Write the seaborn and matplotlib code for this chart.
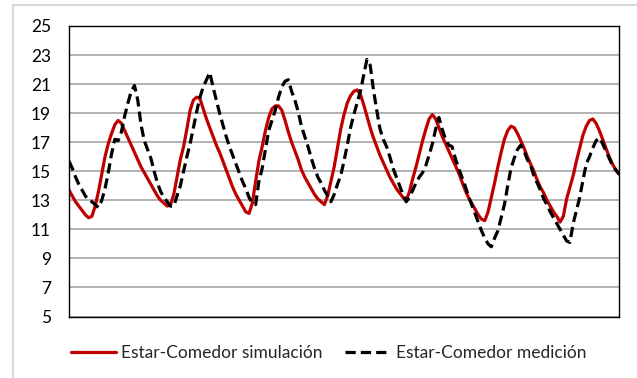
import numpy as np
import pandas as pd
import matplotlib
matplotlib.use("Agg")
import matplotlib.pyplot as plt
from matplotlib.patches import Rectangle
from matplotlib.lines import Line2D
import seaborn as sns

# Hourly living/dining room temperature over one week (°C)
simulacion = [
    13.7, 13.3, 12.9, 12.6, 12.3, 12.0, 11.8, 11.9, 12.6, 13.6, 14.8, 16.0, 16.9, 17.6, 18.2, 18.5,
    18.3, 17.8, 17.3, 16.8, 16.3, 15.8, 15.3, 14.9, 14.5, 14.1, 13.7, 13.3, 13.0, 12.8, 12.6,
    12.7, 13.4, 14.6, 15.8, 16.7, 17.9, 19.2, 19.9, 20.1, 20.0, 19.3, 18.6, 18.0, 17.4, 16.8,
    16.3, 15.7, 15.1, 14.5, 13.9, 13.4, 13.0, 12.6, 12.2, 12.1,
    12.8, 14.3, 15.7, 16.7, 17.8, 18.7, 19.3, 19.5, 19.5, 19.2, 18.5, 17.7, 17.0, 16.4, 15.8,
    15.1, 14.6, 14.2, 13.8, 13.4, 13.1, 12.9, 12.7,
    13.3, 14.3, 15.3, 16.6, 17.9, 18.9, 19.7, 20.2, 20.5, 20.6, 20.3, 19.6, 18.8, 18.0, 17.3,
    16.7, 16.1, 15.6, 15.1, 14.6, 14.2, 13.8, 13.5, 13.2, 13.0,
    13.6, 14.5, 15.3, 16.2, 17.1, 17.9, 18.6, 18.9, 18.6, 18.0, 17.4, 16.9, 16.4, 15.9, 15.4,
    14.9, 14.3, 13.7, 13.2, 12.8, 12.4, 12.0, 11.7, 11.6,
    12.2, 13.2, 14.2, 15.3, 16.3, 17.2, 17.8, 18.1, 18.0, 17.6, 17.1, 16.6, 16.0, 15.5, 15.0,
    14.4, 13.9, 13.5, 13.0, 12.6, 12.2, 11.9, 11.5,
    11.9, 13.1, 13.9, 14.7, 15.7, 16.6, 17.5, 18.1, 18.5, 18.6, 18.3, 17.8, 17.2, 16.6, 16.0,
    15.5, 15.1, 14.8,
]

medicion = [
    15.7, 15.2, 14.6, 14.1, 13.7, 13.3, 13.0, 12.9, 12.7, 12.5, 13.0, 13.8, 14.9, 16.2, 17.2,
    17.1, 17.7, 18.8, 19.7, 20.5, 20.9, 19.9, 18.2, 17.1, 16.5, 15.9, 15.0, 14.2, 13.6, 13.2,
    12.9, 12.6,
    12.6, 13.3, 14.0, 15.0, 16.0, 16.9, 18.0, 19.1, 20.1, 20.8, 21.3, 21.8, 20.8, 19.9, 19.0,
    18.2, 17.4, 16.7, 16.1, 15.5, 14.9, 14.3, 13.8, 13.2, 12.8, 12.7,
    14.3, 15.2, 16.5, 17.8, 18.5, 19.2, 20.1, 20.8, 21.2, 21.3, 20.5, 19.9, 19.1, 18.1, 17.4,
    16.7, 15.9, 15.2, 14.6, 14.2, 13.7, 13.3, 12.9,
    13.4, 14.1, 14.7, 15.7, 16.8, 18.0, 18.9, 19.7, 20.5, 21.6, 22.7, 22.3, 20.6, 19.2, 17.9,
    17.2, 16.7, 16.0, 15.2, 14.6, 14.0, 13.4, 12.9,
    13.2, 13.7, 14.2, 14.6, 14.9, 15.4, 16.1, 16.9, 17.9, 18.7, 17.9, 17.2, 16.8, 16.7, 15.9,
    15.2, 14.6, 14.0, 13.3, 12.7, 12.1, 11.5, 10.9, 10.4, 10.0, 9.8,
    10.4, 10.9, 11.8, 12.7, 14.0, 15.2, 15.9, 16.5, 16.8, 16.4, 15.8, 15.4, 14.7, 14.2, 13.7,
    13.1, 12.7, 12.2, 11.8, 11.4, 11.0, 10.6, 10.2, 10.1,
    11.4, 12.3, 13.2, 14.4, 15.5, 16.0, 16.6, 17.1, 17.3, 16.9, 16.4, 15.9, 15.4, 15.1, 14.8,
]

series_labels = ["Estar-Comedor simulación", "Estar-Comedor medición"]
y_ticks = [5, 7, 9, 11, 13, 15, 17, 19, 21, 23, 25]

sim_df = pd.DataFrame({"hora": np.arange(len(simulacion)), "temp": simulacion})
med_df = pd.DataFrame({"hora": np.arange(len(medicion)), "temp": medicion})

sns.set_theme(style="white")
plt.rcParams["font.family"] = ["Lato", "DejaVu Sans"]

RED = "#C00000"
FS = 12.5
fig = plt.figure(figsize=(6.37, 3.78), dpi=100)
ax = fig.add_axes([69 / 637, 1 - 316.5 / 378, (619 - 69) / 637, (316.5 - 26) / 378])

sns.lineplot(data=sim_df, x="hora", y="temp", ax=ax, color=RED, linewidth=2.3)
sns.lineplot(data=med_df, x="hora", y="temp", ax=ax, color="black", linewidth=2.3)
ax.lines[-1].set_dashes((3.2, 1.6))

ax.set_xlim(0, len(simulacion) - 1)
ax.set_ylim(5, 25)
ax.set_yticks(y_ticks)
ax.set_yticklabels([str(t) for t in y_ticks], fontsize=FS, color="black")
ax.set_xticks([])
ax.set_xlabel("")
ax.set_ylabel("")
ax.tick_params(axis="y", length=0, pad=13)
ax.yaxis.grid(True, color="#A6A6A6", linewidth=1.2)
ax.set_axisbelow(True)
for side in ["left", "bottom", "top", "right"]:
    ax.spines[side].set_color("black")
    ax.spines[side].set_linewidth(1.0)

handles = [
    Line2D([], [], color=RED, linewidth=2.3),
    Line2D([], [], color="black", linewidth=2.3, dashes=(3.2, 1.6)),
]
fig.legend(handles, series_labels, loc="center", bbox_to_anchor=(0.516, 1 - 353 / 378),
           ncol=2, frameon=False, fontsize=FS, handlelength=2.6, handletextpad=0.3,
           columnspacing=1.3)

# Chart frame
fig.patches.append(Rectangle((13 / 637, -0.2), 1.2, 1.2 - 5 / 378,
                             transform=fig.transFigure, fill=False,
                             edgecolor="#D9D9D9", linewidth=1.5, clip_on=False))

fig.savefig("out.png", dpi=100)
